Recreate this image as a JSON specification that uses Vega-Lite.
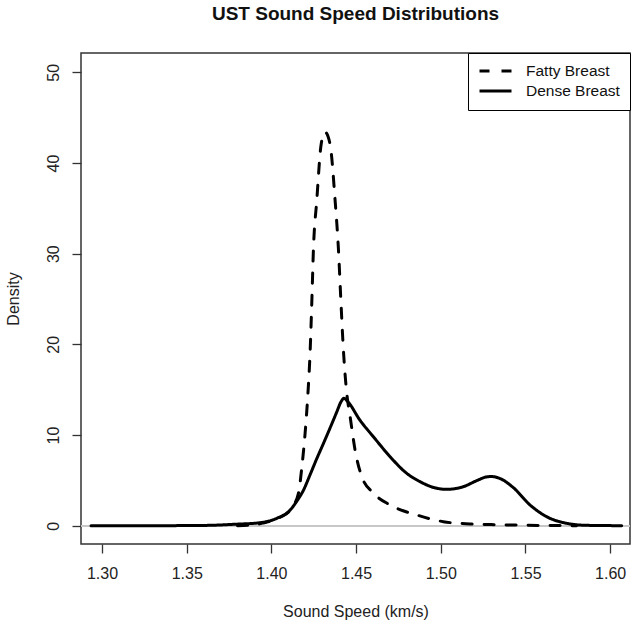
{
  "$schema": "https://vega.github.io/schema/vega-lite/v6.json",
  "autosize": "none",
  "width": 549,
  "height": 491,
  "padding": {"left": 81, "top": 53, "right": 9, "bottom": 85},
  "background": "white",
  "config": {
    "font": "Liberation Sans",
    "view": {"stroke": "#333", "strokeWidth": 1.5},
    "axis": {"domain": false, "grid": false, "tickColor": "#333", "tickSize": 9, "tickWidth": 1.3, "labelFontSize": 16, "labelColor": "#222", "titleFontSize": 16, "titleFontWeight": "normal", "titleColor": "#222"},
    "title": {"fontSize": 19, "fontWeight": "bold", "color": "#111"}
  },
  "title": {"text": "UST Sound Speed Distributions", "offset": 29},
  "data": {"values": [
    {"series": "Dense Breast", "x": 1.2935, "y": 0},
    {"series": "Dense Breast", "x": 1.32, "y": 0},
    {"series": "Dense Breast", "x": 1.35, "y": 0.01},
    {"series": "Dense Breast", "x": 1.3658, "y": 0.05},
    {"series": "Dense Breast", "x": 1.3776, "y": 0.15},
    {"series": "Dense Breast", "x": 1.3934, "y": 0.33},
    {"series": "Dense Breast", "x": 1.4032, "y": 0.81},
    {"series": "Dense Breast", "x": 1.4111, "y": 1.73},
    {"series": "Dense Breast", "x": 1.415, "y": 2.7},
    {"series": "Dense Breast", "x": 1.4189, "y": 3.9},
    {"series": "Dense Breast", "x": 1.4228, "y": 5.6},
    {"series": "Dense Breast", "x": 1.4268, "y": 7.4},
    {"series": "Dense Breast", "x": 1.4308, "y": 9.1},
    {"series": "Dense Breast", "x": 1.4347, "y": 10.8},
    {"series": "Dense Breast", "x": 1.4385, "y": 12.5},
    {"series": "Dense Breast", "x": 1.4412, "y": 13.7},
    {"series": "Dense Breast", "x": 1.4428, "y": 14.05},
    {"series": "Dense Breast", "x": 1.445, "y": 13.7},
    {"series": "Dense Breast", "x": 1.4524, "y": 11.6},
    {"series": "Dense Breast", "x": 1.4602, "y": 9.81},
    {"series": "Dense Breast", "x": 1.4701, "y": 7.6},
    {"series": "Dense Breast", "x": 1.4799, "y": 5.77},
    {"series": "Dense Breast", "x": 1.4878, "y": 4.85},
    {"series": "Dense Breast", "x": 1.496, "y": 4.2},
    {"series": "Dense Breast", "x": 1.5035, "y": 4.01},
    {"series": "Dense Breast", "x": 1.5133, "y": 4.3},
    {"series": "Dense Breast", "x": 1.521, "y": 4.95},
    {"series": "Dense Breast", "x": 1.5271, "y": 5.38},
    {"series": "Dense Breast", "x": 1.53, "y": 5.42},
    {"series": "Dense Breast", "x": 1.535, "y": 5.2},
    {"series": "Dense Breast", "x": 1.5428, "y": 4.2},
    {"series": "Dense Breast", "x": 1.5527, "y": 2.28},
    {"series": "Dense Breast", "x": 1.5625, "y": 0.99},
    {"series": "Dense Breast", "x": 1.5743, "y": 0.26},
    {"series": "Dense Breast", "x": 1.5861, "y": 0.04},
    {"series": "Dense Breast", "x": 1.6068, "y": 0},
    {"series": "Fatty Breast", "x": 1.38, "y": 0},
    {"series": "Fatty Breast", "x": 1.39, "y": 0.1},
    {"series": "Fatty Breast", "x": 1.3952, "y": 0.3},
    {"series": "Fatty Breast", "x": 1.405, "y": 0.9},
    {"series": "Fatty Breast", "x": 1.4111, "y": 1.73},
    {"series": "Fatty Breast", "x": 1.416, "y": 3.6},
    {"series": "Fatty Breast", "x": 1.418, "y": 6.5},
    {"series": "Fatty Breast", "x": 1.4199, "y": 10.2},
    {"series": "Fatty Breast", "x": 1.4213, "y": 13.8},
    {"series": "Fatty Breast", "x": 1.4229, "y": 19.4},
    {"series": "Fatty Breast", "x": 1.4239, "y": 24.9},
    {"series": "Fatty Breast", "x": 1.4248, "y": 30.4},
    {"series": "Fatty Breast", "x": 1.4268, "y": 35.9},
    {"series": "Fatty Breast", "x": 1.4294, "y": 42.1},
    {"series": "Fatty Breast", "x": 1.4317, "y": 43.4},
    {"series": "Fatty Breast", "x": 1.4346, "y": 42.1},
    {"series": "Fatty Breast", "x": 1.4376, "y": 35.9},
    {"series": "Fatty Breast", "x": 1.4396, "y": 30.4},
    {"series": "Fatty Breast", "x": 1.441, "y": 24.9},
    {"series": "Fatty Breast", "x": 1.4425, "y": 19.4},
    {"series": "Fatty Breast", "x": 1.4445, "y": 14.6},
    {"series": "Fatty Breast", "x": 1.4465, "y": 12.0},
    {"series": "Fatty Breast", "x": 1.4494, "y": 8.34},
    {"series": "Fatty Breast", "x": 1.4534, "y": 5.4},
    {"series": "Fatty Breast", "x": 1.4602, "y": 3.6},
    {"series": "Fatty Breast", "x": 1.4701, "y": 2.28},
    {"series": "Fatty Breast", "x": 1.4858, "y": 1.18},
    {"series": "Fatty Breast", "x": 1.5015, "y": 0.44},
    {"series": "Fatty Breast", "x": 1.5173, "y": 0.19},
    {"series": "Fatty Breast", "x": 1.533, "y": 0.11},
    {"series": "Fatty Breast", "x": 1.5574, "y": 0.03},
    {"series": "Fatty Breast", "x": 1.5714, "y": 0.01},
    {"series": "Fatty Breast", "x": 1.58, "y": 0}
  ]},
  "layer": [
    {
      "mark": {"type": "rule", "color": "#c8c8c8", "strokeWidth": 1.5},
      "encoding": {"y": {"datum": 0, "type": "quantitative"}}
    },
    {
      "mark": {"type": "line", "color": "black", "strokeWidth": 3, "strokeCap": "round", "interpolate": "monotone"},
      "encoding": {
        "x": {"field": "x", "type": "quantitative",
          "scale": {"domain": [1.2876, 1.6117], "nice": false, "zero": false},
          "axis": {"values": [1.3, 1.35, 1.4, 1.45, 1.5, 1.55, 1.6], "format": ".2f", "labelPadding": 12, "title": "Sound Speed (km/s)", "titlePadding": 22}},
        "y": {"field": "y", "type": "quantitative",
          "scale": {"domain": [-2.02, 52.13], "nice": false, "zero": false},
          "axis": {"values": [0, 10, 20, 30, 40, 50], "labelAngle": -90, "labelPadding": 11, "title": "Density", "titlePadding": 24}},
        "strokeDash": {"field": "series", "type": "nominal",
          "scale": {"domain": ["Fatty Breast", "Dense Breast"], "range": [[10, 12], [1, 0]]},
          "legend": {"title": null, "orient": "top-right", "offset": 0, "strokeColor": "black", "fillColor": "white", "padding": 10, "symbolType": "stroke", "symbolSize": 1024, "clipHeight": 16, "symbolStrokeWidth": 3, "symbolStrokeColor": "black", "labelFontSize": 15.5, "labelColor": "#111", "labelOffset": 13, "rowPadding": 3, "cornerRadius": 0}},
        "detail": {"field": "series"}
      }
    }
  ]
}
